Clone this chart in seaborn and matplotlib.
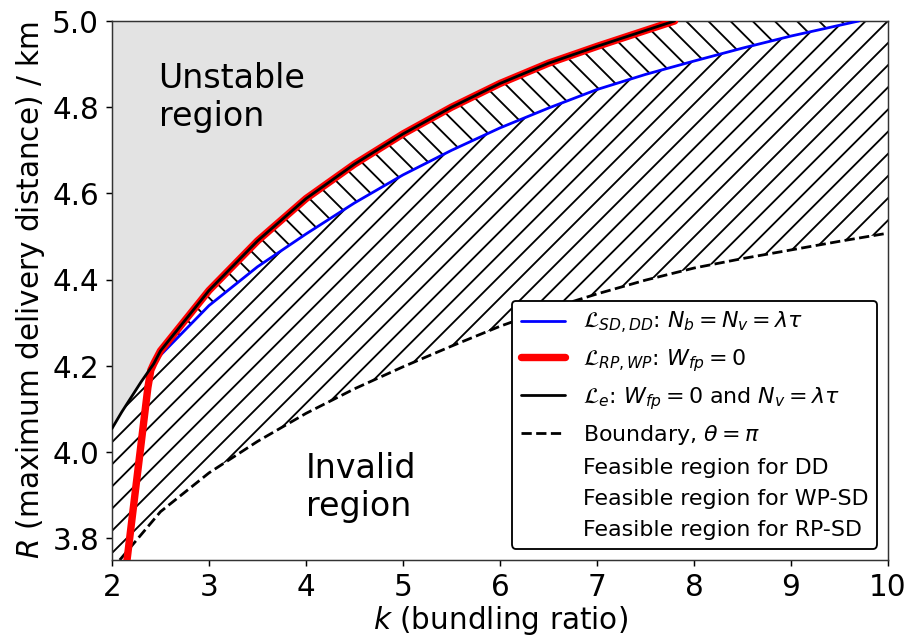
import numpy as np
import matplotlib
matplotlib.use("Agg")
import matplotlib.pyplot as plt
import matplotlib.patches as mpatches
import seaborn as sns

# values (k = bundling ratio, R in km)
left_k = [2.0, 2.1, 2.2, 2.3, 2.43]
left_r = [4.055, 4.093, 4.128, 4.163, 4.205]

upper_k = [2.43, 2.5, 3.0, 3.5, 4.0, 4.5, 5.0, 5.5, 6.0, 6.5, 7.0, 7.5, 7.8]
upper_r = [4.205, 4.235, 4.375, 4.49, 4.588, 4.668, 4.738, 4.80, 4.855, 4.902, 4.941, 4.978, 5.0]

red_k = [2.155, 2.37, 2.40]
red_r = [3.75, 4.15, 4.19]

blue_k = [2.43, 2.5, 3.0, 3.5, 4.0, 4.5, 5.0, 5.5, 6.0, 6.5, 7.0, 7.5, 8.0, 8.5, 9.0, 9.5, 9.7]
blue_r = [4.205, 4.225, 4.34, 4.43, 4.506, 4.578, 4.643, 4.70, 4.752, 4.798, 4.841, 4.876, 4.907, 4.937, 4.965, 4.99, 5.0]

bound_k = [2.08, 2.5, 3.0, 3.5, 4.0, 4.5, 5.0, 5.5, 6.0, 6.5, 7.0, 7.5, 8.0, 8.5, 9.0, 9.5, 10.0]
bound_r = [3.75, 3.862, 3.952, 4.025, 4.09, 4.147, 4.198, 4.246, 4.292, 4.332, 4.367, 4.399, 4.427, 4.449, 4.469, 4.489, 4.508]

k_min, k_max = 2, 10
r_min, r_max = 3.75, 5.0

sns.set_style("ticks")
plt.rcParams['font.family'] = ['DejaVu Sans']
plt.rcParams['text.color'] = 'k'
plt.rcParams['axes.labelcolor'] = 'k'
plt.rcParams['hatch.linewidth'] = 1.0

fig = plt.figure(figsize=(6.835, 4.775), dpi=133)
ax = fig.add_axes([0.1232, 0.1181, 0.8537, 0.8488])

# unstable region (grey, above L_e)
gx = left_k + upper_k[1:] + [k_min]
gy = left_r + upper_r[1:] + [r_max]
ax.fill(gx, gy, facecolor='#e3e3e3', edgecolor='none', zorder=0)

# feasible region for DD: between L_e and L_SD,DD
dx = upper_k + blue_k[::-1]
dy = upper_r + blue_r[::-1]
ax.fill(dx, dy, facecolor='none', edgecolor='k', hatch='\\\\', lw=0, zorder=1)

# feasible region for SD: below L_SD,DD down to the boundary
sx = left_k + blue_k[1:] + [k_max] + bound_k[::-1] + [k_min]
sy = left_r + blue_r[1:] + [r_max] + bound_r[::-1] + [r_min]
ax.fill(sx, sy, facecolor='none', edgecolor='k', hatch='//', lw=0, zorder=1)

sns.lineplot(x=bound_k, y=bound_r, ax=ax, color='k', lw=1.5, linestyle='--',
             estimator=None, sort=False, zorder=2)
sns.lineplot(x=blue_k, y=blue_r, ax=ax, color='blue', lw=1.5,
             estimator=None, sort=False, zorder=3)
sns.lineplot(x=red_k + upper_k, y=red_r + upper_r, ax=ax, color='red', lw=4,
             estimator=None, sort=False, zorder=4)
sns.lineplot(x=left_k + upper_k[1:], y=left_r + upper_r[1:], ax=ax, color='k', lw=1.5,
             estimator=None, sort=False, zorder=5)

ax.text(2.48, 4.905, "Unstable\nregion", fontsize=18, va='top', ha='left')
ax.text(4.0, 4.0, "Invalid\nregion", fontsize=18, va='top', ha='left')

ax.set_xlim(k_min, k_max)
ax.set_ylim(r_min, r_max)
ax.set_xticks(range(2, 11))
ax.set_yticks([3.8, 4.0, 4.2, 4.4, 4.6, 4.8, 5.0])
ax.tick_params(labelsize=16, colors='k')
for s in ax.spines.values():
    s.set_color('#333333')
ax.set_xlabel("$k$ (bundling ratio)", fontsize=16, labelpad=1)
ax.set_ylabel("$R$ (maximum delivery distance) / km", fontsize=16, labelpad=3)

handles = [
    plt.Line2D([], [], color='blue', lw=1.5),
    plt.Line2D([], [], color='red', lw=4),
    plt.Line2D([], [], color='k', lw=1.5),
    plt.Line2D([], [], color='k', lw=1.5, linestyle='--'),
    mpatches.Patch(facecolor='none', edgecolor='none'),
    mpatches.Patch(facecolor='none', edgecolor='none'),
    mpatches.Patch(facecolor='none', edgecolor='none'),
]
labels = [
    r"$\mathcal{L}_{SD,DD}$: $N_b=N_v=\lambda\tau$",
    r"$\mathcal{L}_{RP,WP}$: $W_{fp}=0$",
    r"$\mathcal{L}_{e}$: $W_{fp}=0$ and $N_v=\lambda\tau$",
    r"Boundary, $\theta=\pi$",
    "Feasible region for DD",
    "Feasible region for WP-SD",
    "Feasible region for RP-SD",
]
leg = ax.legend(handles, labels, loc='lower right', fontsize=12, framealpha=1,
                edgecolor='k', fancybox=True)
leg.get_frame().set_linewidth(1.0)

fig.savefig("out.png", dpi=133)
